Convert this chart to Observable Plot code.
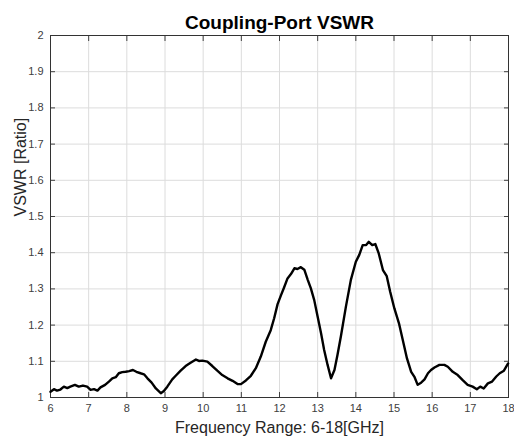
<!DOCTYPE html>
<html>
<head>
<meta charset="utf-8">
<script src="https://cdn.jsdelivr.net/npm/d3@7"></script>
<script src="https://cdn.jsdelivr.net/npm/@observablehq/plot@0.6"></script>
<style>
  html, body { margin: 0; padding: 0; background: #fff; }
  #chart svg { display: block; }
</style>
</head>
<body>
<div id="chart"></div>
<script>
const title = "Coupling-Port VSWR";
const xLabel = "Frequency Range: 6-18[GHz]";
const yLabel = "VSWR [Ratio]";
const xTicks = [6,7,8,9,10,11,12,13,14,15,16,17,18];
const yTicks = [1,1.1,1.2,1.3,1.4,1.5,1.6,1.7,1.8,1.9,2];

const freq = [
  6.00,6.09,6.17,6.26,6.35,6.44,6.52,6.64,6.74,6.85,6.96,7.05,7.14,7.23,7.31,7.43,7.53,7.62,7.71,7.79,
  7.88,7.97,8.06,8.16,8.25,8.36,8.45,8.54,8.65,8.76,8.89,8.97,9.06,9.19,9.28,9.41,9.54,9.67,9.81,9.89,
  9.98,10.11,10.24,10.37,10.50,10.64,10.77,10.90,10.99,11.12,11.25,11.38,11.51,11.64,11.77,11.86,11.95,12.04,12.12,12.21,
  12.30,12.39,12.47,12.56,12.65,12.74,12.82,12.91,13.00,13.09,13.17,13.26,13.35,13.44,13.52,13.61,13.74,13.87,14.00,14.09,
  14.18,14.27,14.34,14.43,14.51,14.60,14.71,14.81,14.90,15.01,15.13,15.23,15.34,15.45,15.54,15.62,15.71,15.80,15.89,15.97,
  16.06,16.19,16.32,16.41,16.54,16.67,16.80,16.93,17.06,17.17,17.26,17.35,17.46,17.57,17.68,17.77,17.88,17.99
];
const vswr = [
  1.016,1.023,1.019,1.022,1.030,1.026,1.030,1.035,1.030,1.033,1.030,1.021,1.023,1.019,1.028,1.035,1.044,1.053,1.056,1.067,
  1.070,1.071,1.073,1.076,1.071,1.067,1.064,1.053,1.041,1.025,1.012,1.018,1.030,1.050,1.060,1.074,1.087,1.096,1.105,1.101,
  1.102,1.099,1.087,1.074,1.062,1.053,1.046,1.037,1.037,1.047,1.060,1.081,1.113,1.154,1.186,1.219,1.258,1.283,1.304,1.329,
  1.341,1.357,1.355,1.360,1.353,1.325,1.302,1.269,1.223,1.177,1.131,1.090,1.053,1.076,1.118,1.170,1.251,1.325,1.375,1.394,
  1.421,1.421,1.430,1.421,1.424,1.398,1.352,1.335,1.292,1.246,1.205,1.159,1.108,1.071,1.056,1.035,1.041,1.050,1.067,1.076,
  1.083,1.090,1.090,1.085,1.071,1.062,1.048,1.035,1.030,1.023,1.030,1.025,1.039,1.044,1.058,1.067,1.074,1.094
];

const data = freq.map((f, i) => ({f, v: vswr[i]}));
const font = "'Liberation Sans', Arial, sans-serif";

const chart = Plot.plot({
  width: 514,
  height: 436,
  marginLeft: 50,
  marginRight: 6,
  marginTop: 35,
  marginBottom: 39,
  style: {fontFamily: font, background: "#fff", color: "#404040"},
  x: {domain: [6, 18], ticks: xTicks},
  y: {domain: [1, 2], ticks: yTicks},
  marks: [
    Plot.gridX(xTicks, {stroke: "#dcdcdc", strokeOpacity: 1}),
    Plot.gridY(yTicks, {stroke: "#dcdcdc", strokeOpacity: 1}),
    Plot.axisX(xTicks, {anchor: "bottom", tickSize: -5, tickPadding: 12, fontSize: 11, label: null, stroke: "#404040"}),
    Plot.axisX(xTicks, {anchor: "top", tickSize: -5, tickFormat: () => "", label: null, stroke: "#404040"}),
    Plot.axisY(yTicks, {anchor: "left", tickSize: -5, tickPadding: 12, fontSize: 11, label: null, tickFormat: d => String(d), stroke: "#404040"}),
    Plot.axisY(yTicks, {anchor: "right", tickSize: -5, tickFormat: () => "", label: null, stroke: "#404040"}),
    Plot.frame({stroke: "#333", strokeWidth: 1}),
    Plot.line(data, {x: "f", y: "v", stroke: "#000", strokeWidth: 2.4, strokeLinejoin: "round"}),
    Plot.text([title], {frameAnchor: "top", lineAnchor: "middle", dy: -13, text: d => d, fontSize: 19, fontWeight: "bold", fill: "#000"}),
    Plot.text([xLabel], {frameAnchor: "bottom", lineAnchor: "middle", dy: 30, text: d => d, fontSize: 16, fill: "#262626"}),
    Plot.text([yLabel], {frameAnchor: "left", dx: -30, rotate: -90, text: d => d, fontSize: 16, fill: "#262626"})
  ]
});
document.getElementById("chart").appendChild(chart);
</script>
</body>
</html>
